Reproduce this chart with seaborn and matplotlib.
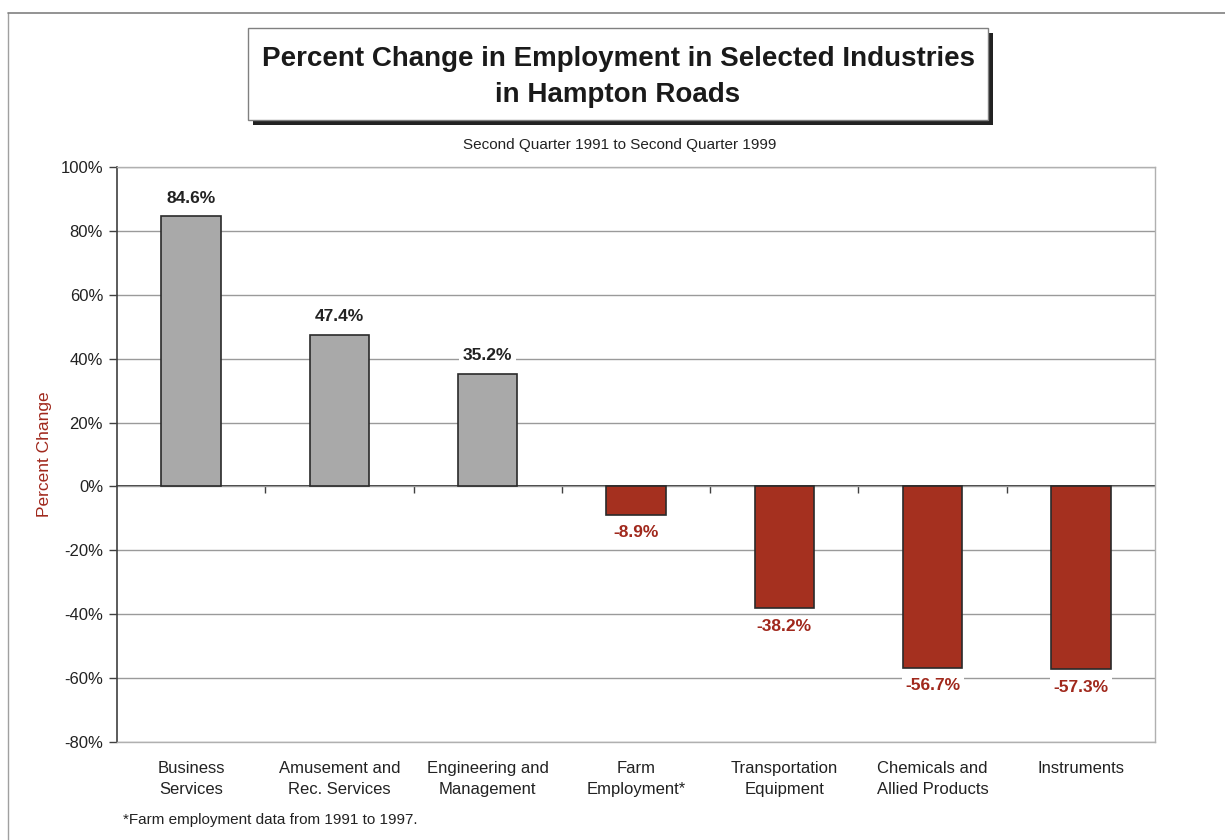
import numpy as np
import pandas as pd
import seaborn as sns
import matplotlib.pyplot as plt
from matplotlib.patches import Rectangle
from matplotlib.lines import Line2D
from matplotlib.ticker import FuncFormatter, FixedLocator

# Data
industries = ["Business\nServices", "Amusement and\nRec. Services", "Engineering and\nManagement",
              "Farm\nEmployment*", "Transportation\nEquipment", "Chemicals and\nAllied Products",
              "Instruments"]
pct_change = [84.6, 47.4, 35.2, -8.9, -38.2, -56.7, -57.3]
yticks = [-80, -60, -40, -20, 0, 20, 40, 60, 80, 100]

grey = "#a9a9a9"
red = "#a5301f"
label_red = "#a0281c"

df = pd.DataFrame({"industry": industries, "change": pct_change})
df["sign"] = np.where(df["change"] >= 0, "pos", "neg")

sns.set_style("white")
plt.rcParams['font.family'] = ['Liberation Sans', 'DejaVu Sans']

fig = plt.figure(figsize=(12.25, 8.4), dpi=100)
ax = fig.add_axes([117 / 1225, 1 - 742 / 840, (1155 - 117) / 1225, (742 - 167) / 840])

sns.barplot(data=df, x="industry", y="change", hue="sign", palette={"pos": grey, "neg": red},
            dodge=False, width=0.4, saturation=1, edgecolor="#2a2a2a", linewidth=1.2,
            legend=False, ax=ax)

ax.set_ylim(-80, 100)
ax.set_xlim(-0.5, len(industries) - 0.5)
ax.yaxis.set_major_locator(FixedLocator(yticks))
ax.yaxis.set_major_formatter(FuncFormatter(lambda v, p: f"{v:.0f}%"))
ax.grid(axis="y", color="#9a9a9a", linewidth=1.0)
ax.set_axisbelow(True)
for s in ["top", "right", "bottom"]:
    ax.spines[s].set_color("#b0b0b0")
    ax.spines[s].set_linewidth(1.0)
ax.spines["left"].set_color("#404040")
ax.spines["left"].set_linewidth(1.2)
ax.tick_params(axis="y", left=True, length=6, width=1.0, color="#404040",
               labelsize=12, labelcolor="#222222", pad=4)
ax.tick_params(axis="x", bottom=False, length=0, labelsize=12, labelcolor="#222222", pad=14)
for t in ax.get_xticklabels():
    t.set_linespacing(1.5)
ax.set_xlabel("")
ax.set_ylabel("Percent Change", color=label_red, fontsize=12.5, labelpad=6)

# zero line with category-boundary ticks
zero_ax = ax.secondary_xaxis(0, transform=ax.transData)
zero_ax.spines["bottom"].set_color("#2a2a2a")
zero_ax.spines["bottom"].set_linewidth(1.3)
zero_ax.set_xticks(np.arange(len(industries) - 1) + 0.5)
zero_ax.tick_params(axis="x", direction="out", length=5, width=1.0, color="#404040", labelbottom=False)

# value labels
for i, v in enumerate(pct_change):
    if v >= 0:
        ax.annotate(f"{v:.1f}%", (i, v), xytext=(0, 13), textcoords="offset points",
                    ha="center", va="center", fontsize=12.5, fontweight="bold", color="#222222",
                    bbox=dict(boxstyle="square,pad=0.2", fc="white", ec="none"))
    else:
        ax.annotate(f"{v:.1f}%", (i, v), xytext=(0, -13), textcoords="offset points",
                    ha="center", va="center", fontsize=12.5, fontweight="bold", color=label_red,
                    bbox=dict(boxstyle="square,pad=0.2", fc="white", ec="none"))

# title box with shadow
W, H = 1225, 840
bx0, by0, bx1, by1 = 248, 28, 988, 120
fig.patches.append(Rectangle(((bx0 + 5) / W, 1 - (by1 + 5) / H), (bx1 - bx0) / W, (by1 - by0) / H,
                             transform=fig.transFigure, facecolor="#222222", edgecolor="none", zorder=1))
fig.patches.append(Rectangle((bx0 / W, 1 - by1 / H), (bx1 - bx0) / W, (by1 - by0) / H,
                             transform=fig.transFigure, facecolor="white", edgecolor="#808080",
                             linewidth=1.0, zorder=2))
fig.text((bx0 + bx1) / 2 / W, 1 - 77 / H, "Percent Change in Employment in Selected Industries\nin Hampton Roads",
         ha="center", va="center", fontsize=20, fontweight="bold", color="#1a1a1a",
         linespacing=1.55, zorder=3)
fig.text(620 / W, 1 - 145 / H, "Second Quarter 1991 to Second Quarter 1999",
         ha="center", va="center", fontsize=11, color="#222222")
fig.text(123 / W, 1 - 820 / H, "*Farm employment data from 1991 to 1997.",
         ha="left", va="center", fontsize=11, color="#222222")

# outer frame (top and left edges visible)
fig.lines.append(Line2D([8 / W, 8 / W], [0, 1 - 13 / H], transform=fig.transFigure, color="#a0a0a0", lw=1.0))
fig.lines.append(Line2D([8 / W, 1], [1 - 13 / H, 1 - 13 / H], transform=fig.transFigure, color="#808080", lw=1.2))

fig.savefig("out.png", dpi=100, facecolor="white")
